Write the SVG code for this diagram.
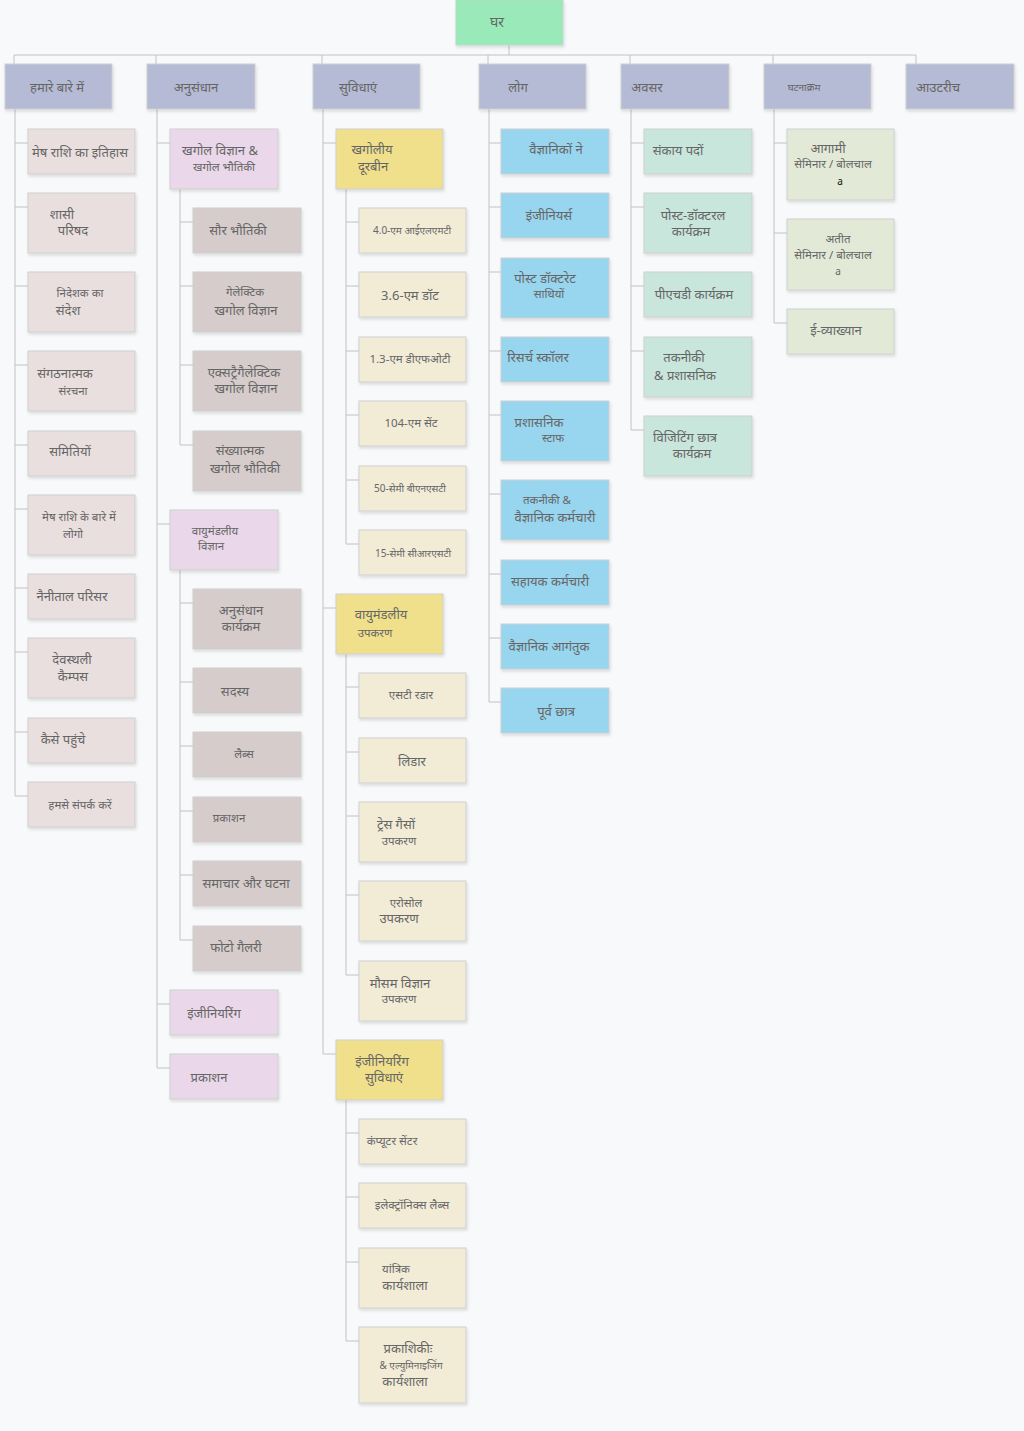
<svg xmlns="http://www.w3.org/2000/svg" width="1024" height="1431" viewBox="0 0 1024 1431">
<defs>
<filter id="sh" x="-10%" y="-10%" width="125%" height="130%">
<feDropShadow dx="1" dy="2" stdDeviation="1.5" flood-color="#000" flood-opacity="0.12"/>
</filter>
<style>
.n rect{stroke:#cfcfcf;stroke-width:1;filter:url(#sh)}
.root rect{fill:#99e9b9;stroke:#b8dcc6}
.top rect{fill:#b5bad5}
.c1 rect{fill:#eadfdf}
.c2 rect{fill:#ead8ea}
.c2b rect{fill:#d6cccc}
.c3 rect{fill:#f0e08c}
.c3b rect{fill:#f2ecd7}
.c4 rect{fill:#98d5ef}
.c5 rect{fill:#c9e6dc}
.c6 rect{fill:#e3e9d7}
text{font-family:"Noto Sans","Liberation Sans",sans-serif;font-size:13px;fill:#666;text-anchor:middle}
text.s{font-size:11.5px}
text.xs{font-size:10px}
text.k{fill:#111;font-size:10px}
#connectors path{fill:none;stroke:#c2c2c2;stroke-width:1}
</style>
</defs>
<rect width="1024" height="1431" fill="#f8f9fb"/>
<g id="connectors">
<path d="M509,45V55M14,55H916M14,55V64M156,55V64M322,55V64M488,55V64M630,55V64M773,55V64M916,55V64"/>
<path d="M15,109V796H28M15,143H28M15,207H28M15,286H28M15,365H28M15,445H28M15,509H28M15,588H28M15,652H28M15,732H28"/>
<path d="M157,109V1068H170M157,143H170M157,524H170M157,1004H170"/>
<path d="M180,189V445H193M180,222H193M180,286H193M180,365H193"/>
<path d="M180,570V940H193M180,603H193M180,682H193M180,746H193M180,811H193M180,875H193"/>
<path d="M323,109V1054H336M323,143H336M323,608H336"/>
<path d="M346,189V544H359M346,222H359M346,286H359M346,351H359M346,415H359M346,480H359"/>
<path d="M346,654V975H359M346,687H359M346,752H359M346,816H359M346,895H359"/>
<path d="M346,1100V1341H359M346,1133H359M346,1197H359M346,1262H359"/>
<path d="M489,109V702H501M489,143H501M489,207H501M489,272H501M489,351H501M489,415H501M489,494H501M489,574H501M489,638H501"/>
<path d="M631,109V430H644M631,143H644M631,207H644M631,286H644M631,351H644"/>
<path d="M774,109V323H787M774,143H787M774,233H787"/>
</g>

<g id="n-home" class="n root"><rect x="456" y="0" width="107" height="45"/><text x="497" y="27" style="font-size:14px">घर</text></g>

<g id="n-about" class="n top"><rect x="5" y="64" width="107" height="45"/><text x="57" y="92">हमारे बारे में</text></g>
<g id="n-research" class="n top"><rect x="147" y="64" width="108" height="45"/><text x="196" y="92">अनुसंधान</text></g>
<g id="n-facilities" class="n top"><rect x="313" y="64" width="107" height="45"/><text x="358" y="92">सुविधाएं</text></g>
<g id="n-people" class="n top"><rect x="479" y="64" width="107" height="45"/><text x="518" y="92">लोग</text></g>
<g id="n-opportunities" class="n top"><rect x="621" y="64" width="108" height="45"/><text x="647" y="92">अवसर</text></g>
<g id="n-events" class="n top"><rect x="764" y="64" width="107" height="45"/><text class="xs" x="804" y="91">घटनाक्रम</text></g>
<g id="n-outreach" class="n top"><rect x="906" y="64" width="108" height="45"/><text x="938" y="92">आउटरीच</text></g>

<g id="n-history" class="n c1"><rect x="28" y="129" width="107" height="45"/><text x="80" y="157">मेष राशि का इतिहास</text></g>
<g id="n-council" class="n c1"><rect x="28" y="193" width="107" height="60"/><text x="62" y="219">शासी</text><text x="73" y="235">परिषद</text></g>
<g id="n-director" class="n c1"><rect x="28" y="272" width="107" height="60"/><text class="s" x="80" y="297">निदेशक का</text><text x="68" y="315">संदेश</text></g>
<g id="n-org" class="n c1"><rect x="28" y="351" width="107" height="60"/><text x="65" y="378">संगठनात्मक</text><text class="s" x="73" y="395">संरचना</text></g>
<g id="n-committees" class="n c1"><rect x="28" y="431" width="107" height="45"/><text x="70" y="456">समितियों</text></g>
<g id="n-aboutpeople" class="n c1"><rect x="28" y="495" width="107" height="60"/><text class="s" x="79" y="521">मेष राशि के बारे में</text><text class="s" x="73" y="538">लोगो</text></g>
<g id="n-nainital" class="n c1"><rect x="28" y="574" width="107" height="45"/><text x="72" y="601">नैनीताल परिसर</text></g>
<g id="n-devasthal" class="n c1"><rect x="28" y="638" width="107" height="60"/><text x="72" y="664">देवस्थली</text><text x="73" y="681">कैम्पस</text></g>
<g id="n-reach" class="n c1"><rect x="28" y="718" width="107" height="45"/><text x="63" y="744">कैसे पहुंचे</text></g>
<g id="n-contact" class="n c1"><rect x="28" y="782" width="107" height="45"/><text class="s" x="80" y="809">हमसे संपर्क करें</text></g>

<g id="n-astro" class="n c2"><rect x="170" y="129" width="108" height="60"/><text x="220" y="155">खगोल विज्ञान &amp;</text><text class="s" x="224" y="171">खगोल भौतिकी</text></g>
<g id="n-solar" class="n c2b"><rect x="193" y="208" width="108" height="45"/><text x="238" y="235">सौर भौतिकी</text></g>
<g id="n-galactic" class="n c2b"><rect x="193" y="272" width="108" height="60"/><text class="s" x="245" y="296">गेलेक्टिक</text><text x="246" y="315">खगोल विज्ञान</text></g>
<g id="n-extragal" class="n c2b"><rect x="193" y="351" width="108" height="60"/><text x="244" y="377">एक्सट्रैगैलेक्टिक</text><text x="246" y="393">खगोल विज्ञान</text></g>
<g id="n-numerical" class="n c2b"><rect x="193" y="431" width="108" height="60"/><text x="240" y="455">संख्यात्मक</text><text x="245" y="473">खगोल भौतिकी</text></g>
<g id="n-atmos" class="n c2"><rect x="170" y="510" width="108" height="60"/><text class="s" x="215" y="535">वायुमंडलीय</text><text class="s" x="211" y="550">विज्ञान</text></g>
<g id="n-resprog" class="n c2b"><rect x="193" y="589" width="108" height="60"/><text x="241" y="615">अनुसंधान</text><text x="241" y="631">कार्यक्रम</text></g>
<g id="n-members" class="n c2b"><rect x="193" y="668" width="108" height="45"/><text x="235" y="696">सदस्य</text></g>
<g id="n-labs" class="n c2b"><rect x="193" y="732" width="108" height="45"/><text class="s" x="244" y="758">लैब्स</text></g>
<g id="n-pubs2" class="n c2b"><rect x="193" y="797" width="108" height="45"/><text class="s" x="229" y="822">प्रकाशन</text></g>
<g id="n-news" class="n c2b"><rect x="193" y="861" width="108" height="45"/><text x="246" y="888">समाचार और घटना</text></g>
<g id="n-photo" class="n c2b"><rect x="193" y="926" width="108" height="45"/><text x="236" y="952">फोटो गैलरी</text></g>
<g id="n-engg" class="n c2"><rect x="170" y="990" width="108" height="45"/><text x="214" y="1018">इंजीनियरिंग</text></g>
<g id="n-pubs" class="n c2"><rect x="170" y="1054" width="108" height="45"/><text x="209" y="1082">प्रकाशन</text></g>

<g id="n-telescopes" class="n c3"><rect x="336" y="129" width="107" height="60"/><text x="372" y="154">खगोलीय</text><text x="373" y="171">दूरबीन</text></g>
<g id="n-ilmt" class="n c3b"><rect x="359" y="208" width="107" height="45"/><text class="xs" x="412" y="234">4.0-एम आईएलएमटी</text></g>
<g id="n-dot" class="n c3b"><rect x="359" y="272" width="107" height="45"/><text x="410" y="300">3.6-एम डॉट</text></g>
<g id="n-dfot" class="n c3b"><rect x="359" y="337" width="107" height="45"/><text class="s" x="410" y="363">1.3-एम डीएफओटी</text></g>
<g id="n-st" class="n c3b"><rect x="359" y="401" width="107" height="45"/><text class="s" x="411" y="427">104-एम सेंट</text></g>
<g id="n-bnst" class="n c3b"><rect x="359" y="466" width="107" height="45"/><text class="xs" x="410" y="492">50-सेमी बीएनएसटी</text></g>
<g id="n-crst" class="n c3b"><rect x="359" y="530" width="107" height="45"/><text class="xs" x="413" y="557">15-सेमी सीआरएसटी</text></g>
<g id="n-atminst" class="n c3"><rect x="336" y="594" width="107" height="60"/><text x="381" y="619">वायुमंडलीय</text><text class="s" x="375" y="637">उपकरण</text></g>
<g id="n-radar" class="n c3b"><rect x="359" y="673" width="107" height="45"/><text class="s" x="411" y="699">एसटी रडार</text></g>
<g id="n-lidar" class="n c3b"><rect x="359" y="738" width="107" height="45"/><text x="412" y="766">लिडार</text></g>
<g id="n-trace" class="n c3b"><rect x="359" y="802" width="107" height="60"/><text x="396" y="829">ट्रेस गैसों</text><text class="s" x="399" y="845">उपकरण</text></g>
<g id="n-aerosol" class="n c3b"><rect x="359" y="881" width="107" height="60"/><text class="s" x="406" y="907">एरोसोल</text><text x="399" y="923">उपकरण</text></g>
<g id="n-meteo" class="n c3b"><rect x="359" y="961" width="107" height="60"/><text x="400" y="988">मौसम विज्ञान</text><text class="s" x="399" y="1003">उपकरण</text></g>
<g id="n-enggfac" class="n c3"><rect x="336" y="1040" width="107" height="60"/><text x="382" y="1066">इंजीनियरिंग</text><text x="384" y="1082">सुविधाएं</text></g>
<g id="n-computer" class="n c3b"><rect x="359" y="1119" width="107" height="45"/><text class="s" x="392" y="1145">कंप्यूटर सेंटर</text></g>
<g id="n-electronics" class="n c3b"><rect x="359" y="1183" width="107" height="45"/><text class="s" x="412" y="1209">इलेक्ट्रॉनिक्स लैब्स</text></g>
<g id="n-mech" class="n c3b"><rect x="359" y="1248" width="107" height="60"/><text class="s" x="396" y="1273">यांत्रिक</text><text x="405" y="1290">कार्यशाला</text></g>
<g id="n-optics" class="n c3b"><rect x="359" y="1327" width="107" height="76"/><text x="408" y="1353">प्रकाशिकीः</text><text class="xs" x="411" y="1369">&amp; एल्युमिनाइजिंग</text><text x="405" y="1386">कार्यशाला</text></g>

<g id="n-scientists" class="n c4"><rect x="501" y="129" width="108" height="45"/><text x="556" y="154">वैज्ञानिकों ने</text></g>
<g id="n-engineers" class="n c4"><rect x="501" y="193" width="108" height="45"/><text x="549" y="220">इंजीनियर्स</text></g>
<g id="n-postdoc" class="n c4"><rect x="501" y="258" width="108" height="60"/><text x="545" y="283">पोस्ट डॉक्टरेट</text><text class="s" x="549" y="298">साथियों</text></g>
<g id="n-scholars" class="n c4"><rect x="501" y="337" width="108" height="45"/><text x="538" y="362">रिसर्च स्कॉलर</text></g>
<g id="n-admin" class="n c4"><rect x="501" y="401" width="108" height="60"/><text x="539" y="427">प्रशासनिक</text><text class="s" x="553" y="442">स्टाफ</text></g>
<g id="n-tech" class="n c4"><rect x="501" y="480" width="108" height="60"/><text class="s" x="547" y="504">तकनीकी &amp;</text><text x="555" y="522">वैज्ञानिक कर्मचारी</text></g>
<g id="n-support" class="n c4"><rect x="501" y="560" width="108" height="45"/><text x="550" y="586">सहायक कर्मचारी</text></g>
<g id="n-visitors" class="n c4"><rect x="501" y="624" width="108" height="45"/><text x="549" y="651">वैज्ञानिक आगंतुक</text></g>
<g id="n-alumni" class="n c4"><rect x="501" y="688" width="108" height="45"/><text x="556" y="716">पूर्व छात्र</text></g>

<g id="n-faculty" class="n c5"><rect x="644" y="129" width="108" height="45"/><text x="678" y="155">संकाय पदों</text></g>
<g id="n-pdprog" class="n c5"><rect x="644" y="193" width="108" height="60"/><text x="693" y="220">पोस्ट-डॉक्टरल</text><text x="691" y="236">कार्यक्रम</text></g>
<g id="n-phd" class="n c5"><rect x="644" y="272" width="108" height="45"/><text x="694" y="299">पीएचडी कार्यक्रम</text></g>
<g id="n-techadmin" class="n c5"><rect x="644" y="337" width="108" height="60"/><text x="684" y="362">तकनीकी</text><text x="685" y="380">&amp; प्रशासनिक</text></g>
<g id="n-visiting" class="n c5"><rect x="644" y="416" width="108" height="60"/><text x="685" y="442">विजिटिंग छात्र</text><text x="692" y="458">कार्यक्रम</text></g>

<g id="n-upcoming" class="n c6"><rect x="787" y="129" width="107" height="71"/><text x="828" y="153">आगामी</text><text class="s" x="833" y="168">सेमिनार / बोलचाल</text><text class="k" x="840" y="185">a</text></g>
<g id="n-past" class="n c6"><rect x="787" y="219" width="107" height="71"/><text class="s" x="838" y="243">अतीत</text><text class="s" x="833" y="259">सेमिनार / बोलचाल</text><rect x="833" y="266" width="10" height="11" fill="#d6d8cf" style="stroke:none;filter:none"/><text class="xs" x="838" y="275">a</text></g>
<g id="n-electure" class="n c6"><rect x="787" y="309" width="107" height="45"/><text x="836" y="335">ई-व्याख्यान</text></g>
</svg>
